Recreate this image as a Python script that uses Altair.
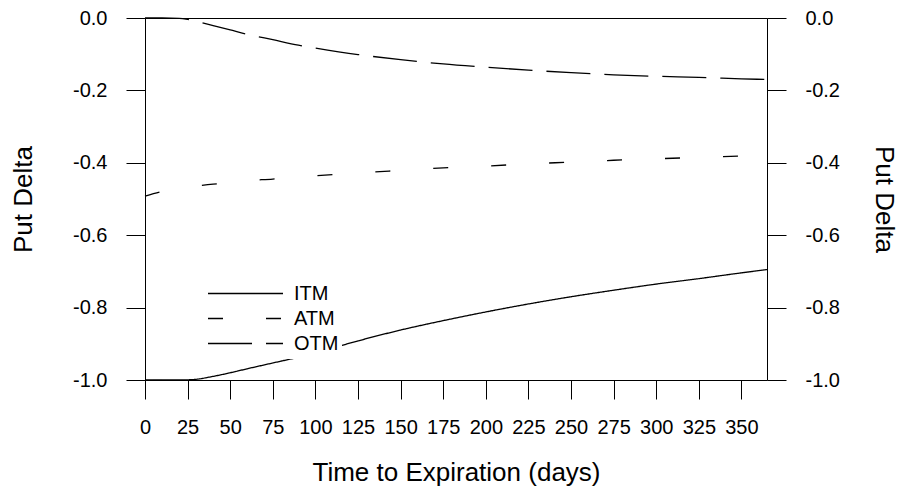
import altair as alt
import pandas as pd

days = [0, 10, 20, 25, 30, 40, 50, 60, 75, 90, 100, 125, 150, 175, 200, 225, 250, 275, 300, 325, 350, 365]
itm = [-1.0, -1.0, -1.0, -0.9995, -0.998, -0.990, -0.980, -0.969, -0.953, -0.937, -0.925, -0.892, -0.862,
       -0.836, -0.812, -0.790, -0.770, -0.752, -0.735, -0.720, -0.704, -0.695]
atm = [-0.492, -0.479, -0.470, -0.467, -0.464, -0.459, -0.454, -0.449, -0.445, -0.439, -0.436, -0.428, -0.421,
       -0.414, -0.409, -0.403, -0.398, -0.393, -0.389, -0.385, -0.381, -0.378]
otm = [0.0, 0.0, -0.001, -0.004, -0.009, -0.021, -0.033, -0.045, -0.060, -0.075, -0.083, -0.101, -0.115,
       -0.127, -0.136, -0.144, -0.151, -0.157, -0.161, -0.164, -0.168, -0.170]
series_names = ["ITM", "ATM", "OTM"]
dash_patterns = [[1, 0], [15, 43], [44, 14]]

x_ticks = list(range(0, 351, 25))
y_ticks = [-1.0, -0.8, -0.6, -0.4, -0.2, 0.0]

rows = []
for name, vals in zip(series_names, [itm, atm, otm]):
    for d, v in zip(days, vals):
        rows.append({"days": d, "delta": v, "option": name})
df = pd.DataFrame(rows)

FONT = "Liberation Sans"
label_expr = "replace(format(datum.value, '.1f'), '\u2212', '-')"

x_scale = alt.Scale(domain=[0, 365], nice=False, zero=False)
y_scale = alt.Scale(domain=[-1, 0], nice=False, zero=False)


def y_axis(orient, title_pad):
    return alt.Axis(
        orient=orient, values=y_ticks, labelExpr=label_expr, tickSize=19, labelPadding=19,
        labelFontSize=20, titleFontSize=26, titleFontWeight="normal", titlePadding=title_pad,
        title="Put Delta", grid=False, labelFlush=False, labelOverlap=False, domainColor="black",
        tickColor="black", labelColor="black", titleColor="black", labelFont=FONT, titleFont=FONT,
    )


lines = alt.Chart(df).mark_line(color="black", strokeWidth=1.3, interpolate="monotone").encode(
    x=alt.X("days:Q", scale=x_scale,
            axis=alt.Axis(values=x_ticks, tickSize=19, labelPadding=18, labelFontSize=20,
                          title="Time to Expiration (days)", titleFontSize=26, titleFontWeight="normal",
                          titlePadding=22, grid=False, labelFlush=False, labelOverlap=False,
                          domainColor="black", tickColor="black", labelColor="black",
                          titleColor="black", labelFont=FONT, titleFont=FONT)),
    y=alt.Y("delta:Q", scale=y_scale, axis=y_axis("left", 36)),
    strokeDash=alt.StrokeDash(
        "option:N",
        scale=alt.Scale(domain=series_names, range=dash_patterns),
        legend=alt.Legend(title=None, orient="none", legendX=60, legendY=261, symbolType="stroke",
                          symbolSize=5625, symbolStrokeWidth=1.3, symbolStrokeColor="black",
                          labelFontSize=20, labelOffset=10, clipHeight=25, rowPadding=0, padding=2,
                          fillColor="white", strokeColor="white",
                          labelFont=FONT, labelColor="black"),
    ),
)

frame = alt.Chart(df).mark_line(opacity=0).encode(
    x=alt.X("days:Q", scale=x_scale,
            axis=alt.Axis(orient="top", labels=False, ticks=False, title=None, grid=False,
                          domainColor="black")),
    y=alt.Y("delta:Q", scale=y_scale, axis=y_axis("right", 31)),
    detail="option:N",
)

chart = alt.layer(lines, frame).resolve_scale(x="shared", y="shared").resolve_axis(
    x="independent", y="independent"
).properties(
    width=622, height=362,
    padding={"left": 145, "top": 18, "right": 135, "bottom": 107},
    autosize=alt.AutoSizeParams(type="none"),
).configure_view(stroke=None).configure(background="white")

chart.save("out.html", embed_options={"renderer": "svg", "actions": False})
